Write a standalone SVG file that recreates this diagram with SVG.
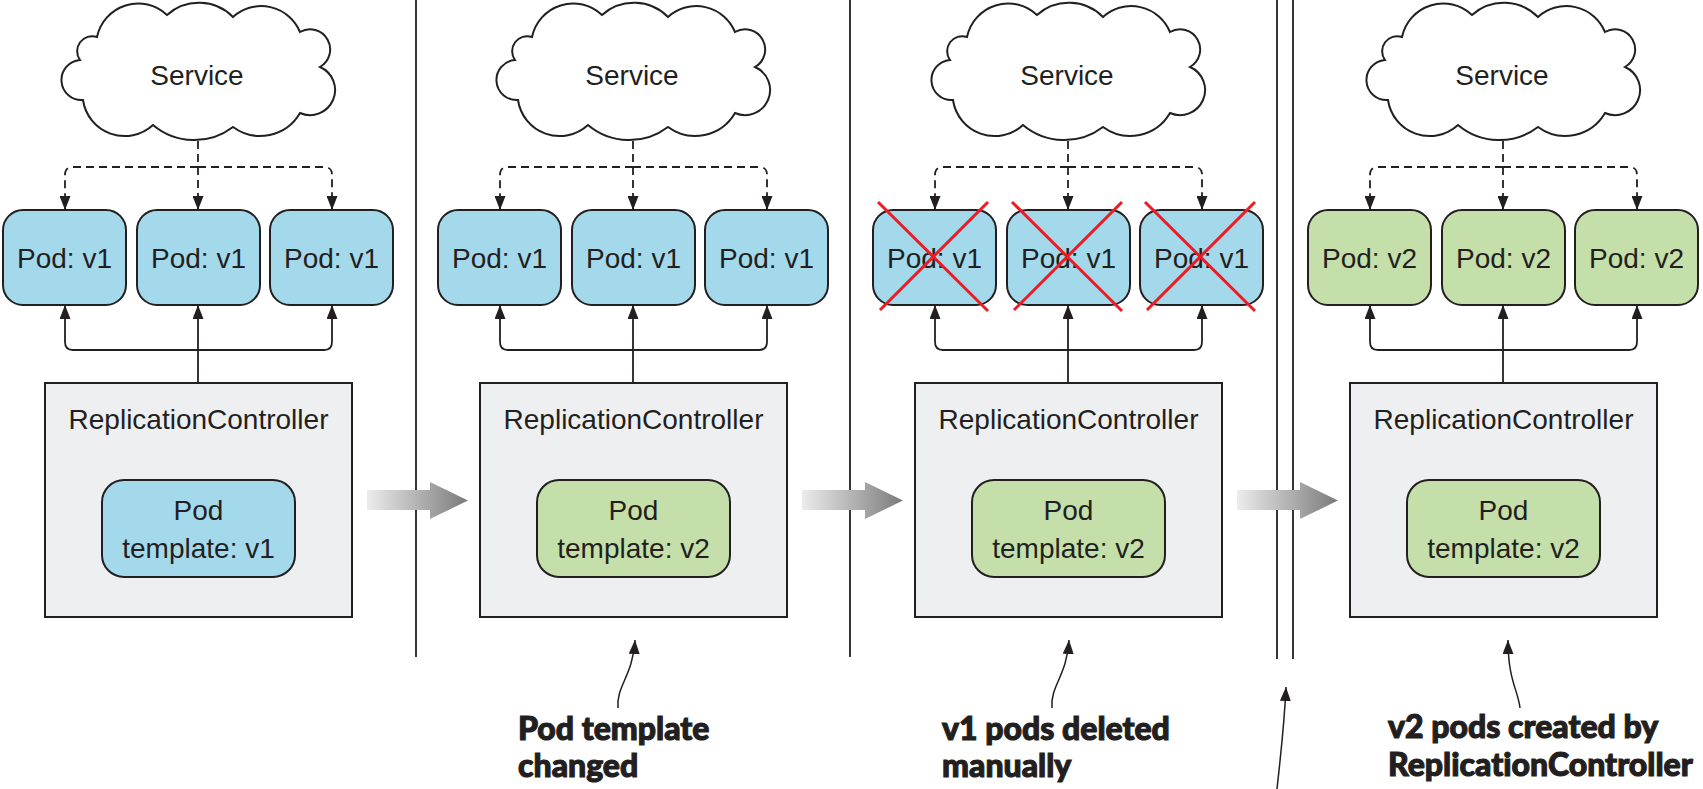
<svg xmlns="http://www.w3.org/2000/svg" xmlns:xlink="http://www.w3.org/1999/xlink" width="1703" height="789" viewBox="0 0 1703 789">
<style>
.ln{fill:none;stroke:#231f20;stroke-width:1.8}
.dash{fill:none;stroke:#231f20;stroke-width:1.8;stroke-dasharray:8 5}
.cloud{fill:#ffffff;stroke:#231f20;stroke-width:2}
.pod1{fill:#a4d9ec;stroke:#231f20;stroke-width:2}
.pod2{fill:#c4dfa9;stroke:#231f20;stroke-width:2}
.rc{fill:#eeeff1;stroke:#231f20;stroke-width:2}
.t{font-family:"Liberation Sans",Arial,sans-serif;font-size:28px;fill:#231f20;text-anchor:middle}
.note{font-family:Lato,"Open Sans",sans-serif;font-weight:900;font-size:32px;fill:#231f20;stroke:#231f20;stroke-width:1.1;font-variant-ligatures:none}
.x{stroke:#ed1c24;stroke-width:3;fill:none}
.div{stroke:#231f20;stroke-width:1.8;fill:none}
</style>
<defs>
<marker id="ah" markerUnits="userSpaceOnUse" markerWidth="14" markerHeight="11" refX="14" refY="5.5" orient="auto">
<path d="M0,0 L14,5.5 L0,11 z" fill="#231f20"/>
</marker>
<linearGradient id="gg" x1="0" y1="0" x2="1" y2="0">
<stop offset="0" stop-color="#ececec"/>
<stop offset="1" stop-color="#7a7a7a"/>
</linearGradient>
<path id="cloudShape" d="M97,37 A42,42 0 0 1 167,15 A48,48 0 0 1 233,17 A42,42 0 0 1 300,32 A20,20 0 0 1 320,67 A25,25 0 0 1 300,113 A46,46 0 0 1 233,127 A64,64 0 0 1 153,125 A42,42 0 0 1 83,100 A20,20 0 0 1 80,60 A15,15 0 0 1 97,37 z"/>
<polygon id="bigArrow" points="367,490 430,490 430,482 468,500.5 430,519 430,510 367,510"/>
</defs>

<g id="dividers">
<line class="div" x1="416" y1="0" x2="416" y2="657"/>
<line class="div" x1="850" y1="0" x2="850" y2="657"/>
<line class="div" x1="1277" y1="0" x2="1277" y2="659"/>
<line class="div" x1="1293" y1="0" x2="1293" y2="659"/>
</g>

<g id="panel1">
<g id="service1"><use xlink:href="#cloudShape" class="cloud"/><text class="t" x="197" y="85">Service</text></g>
<g id="pod1a"><rect class="pod1" x="3" y="210" width="123" height="95" rx="20"/><text class="t" x="64.5" y="268">Pod: v1</text></g>
<g id="pod1b"><rect class="pod1" x="137" y="210" width="123" height="95" rx="20"/><text class="t" x="198.5" y="268">Pod: v1</text></g>
<g id="pod1c"><rect class="pod1" x="270" y="210" width="123" height="95" rx="20"/><text class="t" x="331.5" y="268">Pod: v1</text></g>
<g id="rc1"><rect class="rc" x="45" y="383" width="307" height="234"/><text class="t" x="198.5" y="429">ReplicationController</text>
<rect class="pod1" x="102" y="480" width="193" height="97" rx="22"/><text class="t" x="198.5" y="520">Pod</text><text class="t" x="198.5" y="558">template: v1</text></g>
</g>

<g id="panel2" transform="translate(435,0)">
<g id="service2"><use xlink:href="#cloudShape" class="cloud"/><text class="t" x="197" y="85">Service</text></g>
<g id="pod2a"><rect class="pod1" x="3" y="210" width="123" height="95" rx="20"/><text class="t" x="64.5" y="268">Pod: v1</text></g>
<g id="pod2b"><rect class="pod1" x="137" y="210" width="123" height="95" rx="20"/><text class="t" x="198.5" y="268">Pod: v1</text></g>
<g id="pod2c"><rect class="pod1" x="270" y="210" width="123" height="95" rx="20"/><text class="t" x="331.5" y="268">Pod: v1</text></g>
<g id="rc2"><rect class="rc" x="45" y="383" width="307" height="234"/><text class="t" x="198.5" y="429">ReplicationController</text>
<rect class="pod2" x="102" y="480" width="193" height="97" rx="22"/><text class="t" x="198.5" y="520">Pod</text><text class="t" x="198.5" y="558">template: v2</text></g>
</g>

<g id="panel3" transform="translate(870,0)">
<g id="service3"><use xlink:href="#cloudShape" class="cloud"/><text class="t" x="197" y="85">Service</text></g>
<g id="pod3a"><rect class="pod1" x="3" y="210" width="123" height="95" rx="20"/><text class="t" x="64.5" y="268">Pod: v1</text>
<path class="x" d="M8,202 L118,311 M118,202 L10,310"/></g>
<g id="pod3b"><rect class="pod1" x="137" y="210" width="123" height="95" rx="20"/><text class="t" x="198.5" y="268">Pod: v1</text>
<path class="x" d="M142,202 L252,311 M252,202 L144,310"/></g>
<g id="pod3c"><rect class="pod1" x="270" y="210" width="123" height="95" rx="20"/><text class="t" x="331.5" y="268">Pod: v1</text>
<path class="x" d="M275,202 L385,311 M385,202 L277,310"/></g>
<g id="rc3"><rect class="rc" x="45" y="383" width="307" height="234"/><text class="t" x="198.5" y="429">ReplicationController</text>
<rect class="pod2" x="102" y="480" width="193" height="97" rx="22"/><text class="t" x="198.5" y="520">Pod</text><text class="t" x="198.5" y="558">template: v2</text></g>
</g>

<g id="panel4" transform="translate(1305,0)">
<g id="service4"><use xlink:href="#cloudShape" class="cloud"/><text class="t" x="197" y="85">Service</text></g>
<g id="pod4a"><rect class="pod2" x="3" y="210" width="123" height="95" rx="20"/><text class="t" x="64.5" y="268">Pod: v2</text></g>
<g id="pod4b"><rect class="pod2" x="137" y="210" width="123" height="95" rx="20"/><text class="t" x="198.5" y="268">Pod: v2</text></g>
<g id="pod4c"><rect class="pod2" x="270" y="210" width="123" height="95" rx="20"/><text class="t" x="331.5" y="268">Pod: v2</text></g>
<g id="rc4"><rect class="rc" x="45" y="383" width="307" height="234"/><text class="t" x="198.5" y="429">ReplicationController</text>
<rect class="pod2" x="102" y="480" width="193" height="97" rx="22"/><text class="t" x="198.5" y="520">Pod</text><text class="t" x="198.5" y="558">template: v2</text></g>
</g>

<g id="connectors">
<g id="conn-panel1">
<path class="dash" d="M198,141 V210" marker-end="url(#ah)"/>
<path class="dash" d="M198,167 H73 Q65,167 65,175 V210" marker-end="url(#ah)"/>
<path class="dash" d="M198,167 H324 Q332,167 332,175 V210" marker-end="url(#ah)"/>
<path class="ln" d="M198,383 V305" marker-end="url(#ah)"/>
<path class="ln" d="M198,350 H73 Q65,350 65,342 V305" marker-end="url(#ah)"/>
<path class="ln" d="M198,350 H324 Q332,350 332,342 V305" marker-end="url(#ah)"/>
</g>
<g id="conn-panel2" transform="translate(435,0)">
<path class="dash" d="M198,141 V210" marker-end="url(#ah)"/>
<path class="dash" d="M198,167 H73 Q65,167 65,175 V210" marker-end="url(#ah)"/>
<path class="dash" d="M198,167 H324 Q332,167 332,175 V210" marker-end="url(#ah)"/>
<path class="ln" d="M198,383 V305" marker-end="url(#ah)"/>
<path class="ln" d="M198,350 H73 Q65,350 65,342 V305" marker-end="url(#ah)"/>
<path class="ln" d="M198,350 H324 Q332,350 332,342 V305" marker-end="url(#ah)"/>
</g>
<g id="conn-panel3" transform="translate(870,0)">
<path class="dash" d="M198,141 V210" marker-end="url(#ah)"/>
<path class="dash" d="M198,167 H73 Q65,167 65,175 V210" marker-end="url(#ah)"/>
<path class="dash" d="M198,167 H324 Q332,167 332,175 V210" marker-end="url(#ah)"/>
<path class="ln" d="M198,383 V305" marker-end="url(#ah)"/>
<path class="ln" d="M198,350 H73 Q65,350 65,342 V305" marker-end="url(#ah)"/>
<path class="ln" d="M198,350 H324 Q332,350 332,342 V305" marker-end="url(#ah)"/>
</g>
<g id="conn-panel4" transform="translate(1305,0)">
<path class="dash" d="M198,141 V210" marker-end="url(#ah)"/>
<path class="dash" d="M198,167 H73 Q65,167 65,175 V210" marker-end="url(#ah)"/>
<path class="dash" d="M198,167 H324 Q332,167 332,175 V210" marker-end="url(#ah)"/>
<path class="ln" d="M198,383 V305" marker-end="url(#ah)"/>
<path class="ln" d="M198,350 H73 Q65,350 65,342 V305" marker-end="url(#ah)"/>
<path class="ln" d="M198,350 H324 Q332,350 332,342 V305" marker-end="url(#ah)"/>
</g>
<g id="transitions">
<use xlink:href="#bigArrow" fill="url(#gg)"/>
<use xlink:href="#bigArrow" fill="url(#gg)" transform="translate(435,0)"/>
<use xlink:href="#bigArrow" fill="url(#gg)" transform="translate(870,0)"/>
</g>
<g id="callouts">
<path class="ln" style="stroke-width:1.5" d="M618,708 C616,686 633,676 635,640" marker-end="url(#ah)"/>
<path class="ln" style="stroke-width:1.5" d="M1052,708 C1050,686 1067,676 1069,640" marker-end="url(#ah)"/>
<path class="ln" style="stroke-width:1.5" d="M1520,708 C1518,690 1508,680 1508,640" marker-end="url(#ah)"/>
<path class="ln" style="stroke-width:1.5" d="M1277,789 C1280,760 1284,730 1286,687" marker-end="url(#ah)"/>
</g>
</g>

<g id="notes">
<text class="note" x="518" y="740">Pod template</text>
<text class="note" x="518" y="777">changed</text>
<text class="note" x="942" y="740">v1 pods deleted</text>
<text class="note" x="942" y="777">manually</text>
<text class="note" x="1388" y="738">v2 pods created by</text>
<text class="note" x="1388" y="776">ReplicationController</text>
</g>
</svg>
